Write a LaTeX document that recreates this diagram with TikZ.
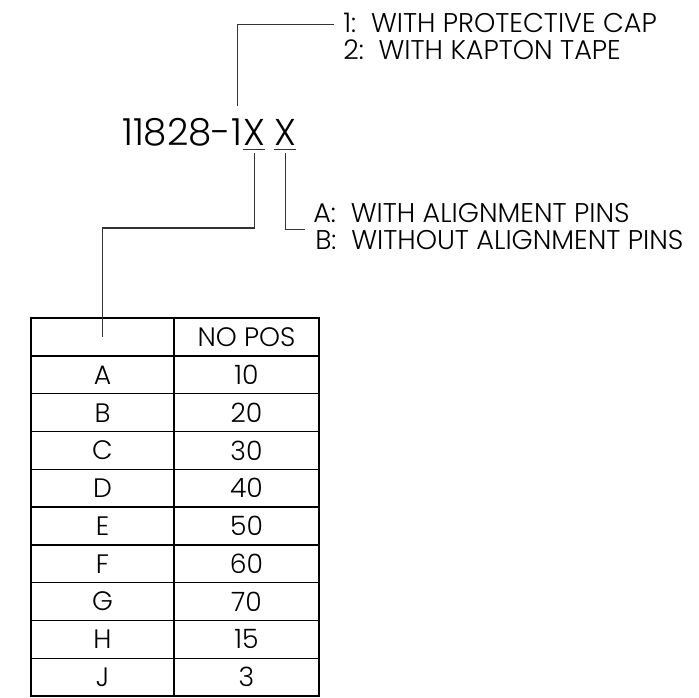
\documentclass[tikz,border=0pt]{standalone}
\usepackage{fontspec}
\setmainfont{Poppins}[UprightFont=* Light]
\usepackage{tikz}
\usetikzlibrary{calc}

\tikzset{
  lbl/.style={inner sep=0, anchor=base west, font=\fontsize{20.3}{24}\selectfont},
  pnum/.style={inner sep=0, anchor=base west, font=\fontsize{28}{32}\selectfont},
  cell/.style={inner sep=0, font=\fontsize{20}{24}\selectfont},
  lead/.style={line width=0.8pt, draw=black!80},
  grid/.style={line width=1pt}
}

\begin{document}
\begin{tikzpicture}[x=0.75pt,y=0.75pt,yscale=-1,xscale=1]
\useasboundingbox (0,0) rectangle (699,697);
% part number
\node [pnum] (xa) at (243,145) {X};
\node [pnum] (xb) at (274,145) {X};
\node [pnum, anchor=base east] (capdigit) at (xa.base west) {1};
\node [pnum, anchor=base east] (pn) at (capdigit.base west) {11828-};
\draw [lead] ($(xa.south west)+(0,4)$) -- ($(xa.south east)+(0,4)$);
\draw [lead] ($(xb.south west)+(0,4)$) -- ($(xb.south east)+(0,4)$);
% option texts
\node [lbl] (cap1) at (343,32) {1:\ \ WITH PROTECTIVE CAP};
\node [lbl] (cap2) at (343,59) {2:\ \ WITH KAPTON TAPE};
\node [lbl] (pinA) at (313,222) {A:\ \ WITH ALIGNMENT PINS};
\node [lbl] (pinB) at (315,249) {B:\ \ WITHOUT ALIGNMENT PINS};
% table
\draw [grid] (31,318) rectangle (319,696);
\draw [grid] (174,318) -- (174,696);
\draw [grid] (31,356) -- (319,356);
\node [cell] (hdr) at (102.5,337) {};
\node [cell] (npos) at (246.5,337) {NO POS};
\foreach \l/\n [count=\i] in {A/10,B/20,C/30,D/40,E/50,F/60,G/70,H/15,J/3} {
  \node [cell] (l\l) at (102.5,{356+(\i-0.5)*37.78}) {\l};
  \node [cell] (n\l) at (246.5,{356+(\i-0.5)*37.78}) {\n};
  \draw [grid] (31,{356+\i*37.78}) -- (319,{356+\i*37.78});
}
% leaders
\draw [lead] ($(capdigit.north)+(0,-12)$) |- ($(cap1.west)+(-9,2)$);
\draw [lead] ($(xa.south)+(0,8)$) |- ($(hdr.center)+(0,-109)$) -- (hdr.center);
\draw [lead] ($(xb.south)+(0,8)$) |- ($(pinB.north west)+(-10,0)$);
\end{tikzpicture}
\end{document}
